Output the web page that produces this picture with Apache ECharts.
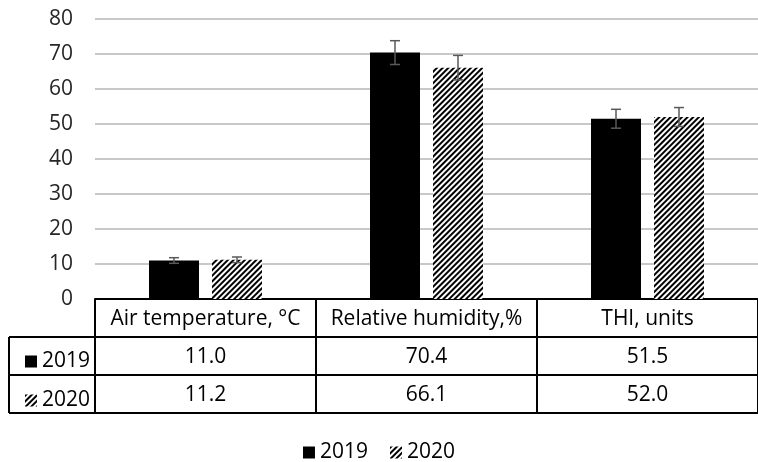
<!DOCTYPE html>
<html>
<head>
<meta charset="utf-8">
<script src="https://cdn.jsdelivr.net/npm/echarts@6/dist/echarts.min.js"></script>
<style>
  html, body { margin: 0; padding: 0; background: #fff; }
  #chart { width: 758px; height: 462px; }
</style>
</head>
<body>
<div id="chart"></div>
<script>
const categories = ['Air temperature, °C', 'Relative humidity,%', 'THI, units']
const years = ['2019', '2020']
const values2019 = [11.0, 70.4, 51.5]
const values2020 = [11.2, 66.1, 52.0]
const errors2019 = [0.8, 3.4, 2.7]
const errors2020 = [0.8, 3.5, 2.7]
const yTicks = { min: 0, max: 80, interval: 10 }

const FONT = '"Open Sans"'
const gridLeft = 95
const gridTop = 19
const gridHeight = 280
const gridWidth = 670
const rowH = 38
const barWidth = 50
const barGapPx = 13
const barOffset = (barWidth + barGapPx) / 2

// diagonal hatch for 2020
const hatch = {
  symbol: 'rect',
  symbolSize: 1,
  dashArrayX: [1, 0],
  dashArrayY: [1.7, 1.5],
  rotation: -Math.PI / 4,
  color: '#000',
  backgroundColor: '#fff'
}

const chart = echarts.init(document.getElementById('chart'))

const errorSeries = (values, errors, offset) => ({
  type: 'custom',
  z: 5,
  silent: true,
  data: values.map((v, i) => [i, v, errors[i]]),
  renderItem: (params, api) => {
    const i = api.value(0)
    const v = api.value(1)
    const e = api.value(2)
    const top = api.coord([i, v + e])
    const bot = api.coord([i, v - e])
    const x = top[0] + offset
    const style = { stroke: '#595959', lineWidth: 1.5 }
    return {
      type: 'group',
      children: [
        { type: 'line', shape: { x1: x, y1: top[1], x2: x, y2: bot[1] }, style },
        { type: 'line', shape: { x1: x - 5, y1: top[1], x2: x + 5, y2: top[1] }, style },
        { type: 'line', shape: { x1: x - 5, y1: bot[1], x2: x + 5, y2: bot[1] }, style }
      ]
    }
  }
})

const tableBottom = gridTop + gridHeight + rowH * 3
const lineStyle = { stroke: '#000', lineWidth: 2 }

const option = {
  animation: false,
  textStyle: { fontFamily: FONT },
  grid: { left: gridLeft, top: gridTop, width: gridWidth, height: gridHeight },
  legend: [
    {
      data: years,
      top: 437,
      left: 'center',
      itemWidth: 12,
      itemHeight: 12,
      itemGap: 22,
      icon: 'rect',
      textStyle: { fontSize: 21, color: '#000', fontFamily: FONT }
    },
    {
      data: years,
      orient: 'vertical',
      left: 20,
      top: gridTop + gridHeight + rowH + 9,
      itemWidth: 12,
      itemHeight: 12,
      itemGap: 18,
      icon: 'rect',
      selectedMode: false,
      textStyle: { fontSize: 21, lineHeight: 20, color: '#000', fontFamily: FONT }
    }
  ],
  xAxis: {
    type: 'category',
    data: categories,
    axisLine: { lineStyle: { color: '#000', width: 2 } },
    axisTick: { show: true, interval: 0, length: rowH * 3, lineStyle: { color: '#000', width: 2 } },
    axisLabel: {
      interval: 0,
      margin: 1,
      formatter: (name, i) =>
        '{h|' + name + '}\n{v|' + values2019[i].toFixed(1) + '}\n{v|' + values2020[i].toFixed(1) + '}',
      rich: {
        h: { fontSize: 21, lineHeight: rowH, color: '#000', fontFamily: FONT },
        v: { fontSize: 21, lineHeight: rowH, color: '#000', fontFamily: FONT }
      }
    }
  },
  yAxis: {
    type: 'value',
    min: yTicks.min,
    max: yTicks.max,
    interval: yTicks.interval,
    axisLine: { show: false },
    axisTick: { show: false },
    axisLabel: { fontSize: 21, color: '#262626', margin: 22, fontFamily: FONT },
    splitLine: { lineStyle: { color: '#c8c8c8', width: 2 } }
  },
  series: [
    {
      name: '2019',
      type: 'bar',
      data: values2019,
      barWidth: barWidth,
      barGap: (barGapPx / barWidth * 100) + '%',
      itemStyle: { color: '#000' }
    },
    {
      name: '2020',
      type: 'bar',
      data: values2020,
      barWidth: barWidth,
      itemStyle: { color: '#fff', decal: hatch }
    },
    errorSeries(values2019, errors2019, -barOffset),
    errorSeries(values2020, errors2020, barOffset)
  ],
  graphic: [
    { type: 'line', shape: { x1: 9, y1: gridTop + gridHeight + rowH, x2: 758, y2: gridTop + gridHeight + rowH }, style: lineStyle },
    { type: 'line', shape: { x1: 9, y1: gridTop + gridHeight + rowH * 2, x2: 758, y2: gridTop + gridHeight + rowH * 2 }, style: lineStyle },
    { type: 'line', shape: { x1: 9, y1: tableBottom, x2: 758, y2: tableBottom }, style: lineStyle },
    { type: 'line', shape: { x1: 9, y1: gridTop + gridHeight + rowH, x2: 9, y2: tableBottom }, style: lineStyle }
  ]
}

chart.setOption(option)
</script>
</body>
</html>
